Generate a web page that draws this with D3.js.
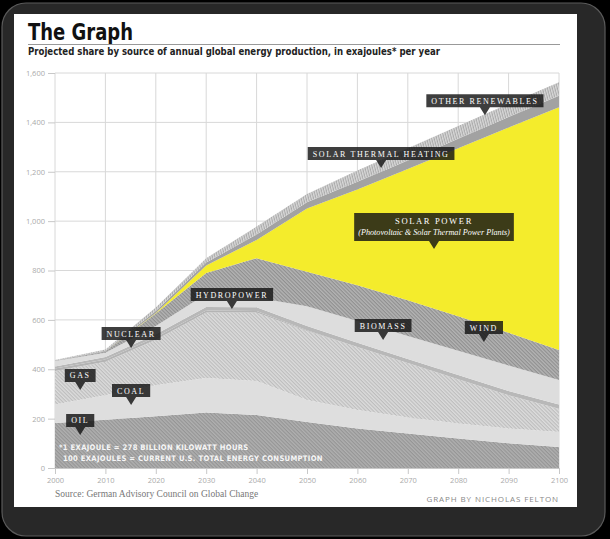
<!DOCTYPE html>
<html>
<head>
<meta charset="utf-8">
<script src="https://cdn.jsdelivr.net/npm/d3@7"></script>
<style>
  body { margin: 0; background: #000; }
  svg { display: block; }
</style>
</head>
<body>
<div id="my-chart"></div>
<script>
// values, exajoules per year
const years   = [2000, 2010, 2020, 2030, 2040, 2050, 2060, 2070, 2080, 2090, 2100];
const oil     = [182, 195, 210, 225, 215, 186, 160, 140, 120, 100, 85];
const coal    = [75, 100, 125, 140, 137, 89, 75, 65, 60, 60, 61];
const gas     = [136, 135, 185, 265, 278, 280, 255, 220, 180, 135, 94];
const nuclear = [10, 10, 10, 8, 6, 3, 0, 0, 0, 0, 0];
const hydro   = [8, 10, 12, 14, 15, 17, 17, 17, 17, 17, 17];
const biomass = [22, 17, 33, 53, 39, 80, 88, 93, 98, 103, 99];
const wind    = [1, 5, 51, 85, 160, 140, 145, 145, 140, 133, 122];
const solar   = [0, 0, 2, 30, 74, 256, 388, 531, 680, 831, 983];
const thermal = [1, 3, 8, 12, 22, 25, 31, 35, 39, 43, 47];
const other   = [2, 5, 14, 18, 32, 34, 46, 49, 51, 53, 55];

const yTicks = [0, 200, 400, 600, 800, 1000, 1200, 1400, 1600];

// label name, year and value the pointer touches
const labelNames  = ["OTHER RENEWABLES", "SOLAR THERMAL HEATING", "SOLAR POWER", "HYDROPOWER", "NUCLEAR", "BIOMASS", "WIND", "GAS", "COAL", "OIL"];
const labelYears  = [2085.3, 2064.7, 2075.2, 2035.1, 2015.1, 2065.1, 2085.1, 2005, 2015.1, 2005];
const labelValues = [1429, 1215, 887, 644, 486, 518, 510, 316, 255, 134];

const width = 610, height = 539;
const marginLeft = 55, marginRight = 51, marginTop = 73, marginBottom = 71;

const keys = ["oil", "coal", "gas", "nuclear", "hydro", "biomass", "wind", "solar", "thermal", "other"];
const series = {oil, coal, gas, nuclear, hydro, biomass, wind, solar, thermal, other};
const table = years.map((yr, i) => {
  const row = {year: yr};
  keys.forEach(k => row[k] = series[k][i]);
  return row;
});

const fills = {
  oil: "url(#hatchOil)",
  coal: "#dedede",
  gas: "url(#hatchGas)",
  nuclear: "#b4b4b4",
  hydro: "#b8b8b8",
  biomass: "#dddddd",
  wind: "url(#hatchWind)",
  solar: "#f4ec2c",
  thermal: "#a2a2a2",
  other: "url(#hatchOther)"
};

const condensed = "'Liberation Sans Narrow', 'DejaVu Sans Condensed', 'DejaVu Sans', sans-serif";

const svg = d3.select("#my-chart").append("svg")
    .attr("width", width)
    .attr("height", height)
    .attr("viewBox", [0, 0, width, height]);

const defs = svg.append("defs");
function hatch(id, base, stripe, angle, gap) {
  const p = defs.append("pattern")
      .attr("id", id)
      .attr("patternUnits", "userSpaceOnUse")
      .attr("width", gap)
      .attr("height", gap)
      .attr("patternTransform", `rotate(${angle})`);
  p.append("rect").attr("width", gap).attr("height", gap).attr("fill", base);
  p.append("rect").attr("width", gap).attr("height", gap * 0.45).attr("fill", stripe);
}
hatch("hatchOil", "#b0b0b0", "#959595", 45, 2.6);
hatch("hatchGas", "#dcdcdc", "#bdbdbd", 45, 2.6);
hatch("hatchWind", "#b4b4b4", "#8f8f8f", 45, 2.6);
hatch("hatchOther", "#d8d8d8", "#aaaaaa", 75, 2.4);

// squeeze a text to the width it has in the picture when the narrow font is missing
function fitWidth(sel, w) {
  if (sel.node().getComputedTextLength() > w + 2) {
    sel.attr("textLength", w).attr("lengthAdjust", "spacingAndGlyphs");
  }
  return sel;
}

// frame and white card
svg.append("rect")
    .attr("x", 2).attr("y", 3).attr("width", 603).attr("height", 533)
    .attr("rx", 24)
    .attr("fill", "#282828")
    .attr("stroke", "#5a5a5a")
    .attr("stroke-width", 1.2);
svg.append("rect")
    .attr("x", 14).attr("y", 14).attr("width", 563).attr("height", 493)
    .attr("fill", "#fff");

// title block
fitWidth(svg.append("text")
    .attr("x", 28).attr("y", 40)
    .attr("font-family", condensed)
    .attr("font-stretch", "condensed")
    .attr("font-weight", "bold")
    .attr("font-size", 23)
    .attr("fill", "#111")
    .text("The Graph"), 105);
svg.append("line")
    .attr("x1", 28).attr("x2", 560).attr("y1", 44.5).attr("y2", 44.5)
    .attr("stroke", "#999");
fitWidth(svg.append("text")
    .attr("x", 28).attr("y", 55)
    .attr("font-family", condensed)
    .attr("font-stretch", "condensed")
    .attr("font-weight", "bold")
    .attr("font-size", 11)
    .attr("fill", "#222")
    .text("Projected share by source of annual global energy production, in exajoules* per year"), 412);

const xScale = d3.scaleLinear([2000, 2100], [marginLeft, width - marginRight]);
const yScale = d3.scaleLinear([0, 1600], [height - marginBottom, marginTop]);

// grid
svg.append("g")
    .attr("stroke", "#d8d8d8")
  .selectAll("line")
  .data(years)
  .join("line")
    .attr("x1", d => xScale(d)).attr("x2", d => xScale(d))
    .attr("y1", yScale(0)).attr("y2", yScale(1600));
svg.append("g")
    .attr("stroke", "#d8d8d8")
  .selectAll("line")
  .data(yTicks)
  .join("line")
    .attr("x1", marginLeft).attr("x2", width - marginRight)
    .attr("y1", d => yScale(d)).attr("y2", d => yScale(d));

// stacked areas
const stack = d3.stack().keys(keys)(table);
const area = d3.area()
    .x(d => xScale(d.data.year))
    .y0(d => yScale(d[0]))
    .y1(d => yScale(d[1]));

svg.append("g")
  .selectAll("path")
  .data(stack)
  .join("path")
    .attr("fill", d => fills[d.key])
    .attr("d", area);

// axes
const tickFont = "'Open Sans', 'DejaVu Sans', sans-serif";
svg.append("g")
    .attr("transform", `translate(${marginLeft},0)`)
    .call(d3.axisLeft(yScale).tickValues(yTicks).tickFormat(d3.format(",")).tickSize(7).tickPadding(3))
    .call(g => g.select(".domain").remove())
    .call(g => g.selectAll(".tick line").attr("stroke", "#c8c8c8"))
    .call(g => g.selectAll(".tick text")
        .attr("fill", "#aaa")
        .attr("font-family", tickFont)
        .attr("font-size", 7.5));

svg.append("g")
    .attr("transform", `translate(0,${yScale(0)})`)
    .call(d3.axisBottom(xScale).tickValues(years).tickFormat(d3.format("d")).tickSize(6).tickPadding(4))
    .call(g => g.select(".domain").attr("stroke", "#c8c8c8"))
    .call(g => g.selectAll(".tick line").attr("stroke", "#c8c8c8"))
    .call(g => g.selectAll(".tick text")
        .attr("fill", "#aaa")
        .attr("font-family", tickFont)
        .attr("font-size", 7.5));

// footnote inside the oil band
const foot = svg.append("g")
    .attr("font-family", condensed)
    .attr("font-stretch", "condensed")
    .attr("font-weight", "bold")
    .attr("font-size", 7.6)
    .attr("fill", "#fff")
    .attr("fill-opacity", 0.92)
    .attr("letter-spacing", 0.3);
foot.append("text").attr("x", 59).attr("y", 450).text("*1 EXAJOULE = 278 BILLION KILOWATT HOURS");
foot.append("text").attr("x", 63).attr("y", 461).text("100 EXAJOULES = CURRENT U.S. TOTAL ENERGY CONSUMPTION");

// callout labels
const labels = svg.append("g");
labelNames.forEach((name, i) => {
  const tx = xScale(labelYears[i]);
  const ty = yScale(labelValues[i]);
  const g = labels.append("g");
  const two = name === "SOLAR POWER";
  const boxH = two ? 28 : 13;
  const boxBottom = ty - 8;
  const t = g.append("text")
      .attr("x", tx)
      .attr("y", boxBottom - boxH + 9.5)
      .attr("text-anchor", "middle")
      .attr("font-family", "'Liberation Serif', 'DejaVu Serif', serif")
      .attr("font-size", two ? 8.6 : 8)
      .attr("letter-spacing", 1.6)
      .attr("fill", "#fff")
      .text(name);
  let w = t.node().getComputedTextLength() + 10;
  if (two) {
    const sub = g.append("text")
        .attr("x", tx)
        .attr("y", boxBottom - 6)
        .attr("text-anchor", "middle")
        .attr("font-family", "'Liberation Serif', 'DejaVu Serif', serif")
        .attr("font-style", "italic")
        .attr("font-size", 8.2)
        .attr("fill", "#fff")
        .text("(Photovoltaic & Solar Thermal Power Plants)");
    t.attr("y", boxBottom - boxH + 11);
    w = Math.max(w, sub.node().getComputedTextLength() + 8);
  }
  g.insert("path", "text")
      .attr("fill", "#141414")
      .attr("fill-opacity", 0.82)
      .attr("d", `M${tx - w / 2},${boxBottom - boxH}h${w}v${boxH}H${tx + 5}L${tx},${ty}L${tx - 5},${boxBottom}H${tx - w / 2}Z`);
});

// source and credit
svg.append("text")
    .attr("x", 55).attr("y", 497)
    .attr("font-family", "'Liberation Serif', 'DejaVu Serif', serif")
    .attr("font-size", 9.5)
    .attr("fill", "#777")
    .text("Source: German Advisory Council on Global Change");
svg.append("text")
    .attr("x", 559).attr("y", 502)
    .attr("text-anchor", "end")
    .attr("font-family", "'Open Sans', 'DejaVu Sans', sans-serif")
    .attr("font-size", 8)
    .attr("letter-spacing", 0.9)
    .attr("fill", "#888")
    .text("GRAPH BY NICHOLAS FELTON");
</script>
</body>
</html>
